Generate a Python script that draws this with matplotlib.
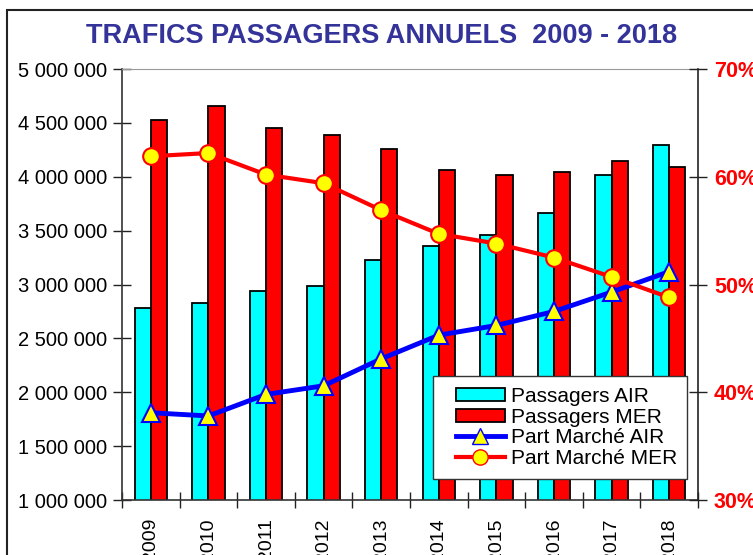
import matplotlib
matplotlib.use("Agg")
import matplotlib.pyplot as plt
import numpy as np
from matplotlib.patches import Rectangle, Patch
from matplotlib.lines import Line2D
from matplotlib.ticker import FuncFormatter

years = ["2009", "2010", "2011", "2012", "2013", "2014", "2015", "2016", "2017", "2018"]
passagers_air = [2780000, 2830000, 2940000, 2990000, 3230000, 3360000, 3455000, 3660000, 4015000, 4293000]
passagers_mer = [4528000, 4660000, 4450000, 4390000, 4260000, 4065000, 4016000, 4046000, 4145000, 4095000]
part_air = [38.1, 37.8, 39.8, 40.6, 43.1, 45.3, 46.2, 47.5, 49.3, 51.2]
part_mer = [61.9, 62.2, 60.2, 59.4, 56.9, 54.7, 53.8, 52.5, 50.7, 48.8]

plt.rcParams['font.family'] = ['Liberation Sans', 'DejaVu Sans']

fig = plt.figure(figsize=(7.53, 5.55), dpi=100)
W, H = 753, 555

# outer frame
fig.patches.append(Rectangle((7 / W, -0.1), 1.2, 1 - 10 / H + 0.1, transform=fig.transFigure,
                             fill=False, edgecolor='#222222', linewidth=1.5))

fig.text(382 / W, 1 - 36 / H, "TRAFICS PASSAGERS ANNUELS  2009 - 2018", ha='center', va='center',
         fontsize=19.5, fontweight='bold', color='#333399')

ax = fig.add_axes([122 / W, 1 - 500 / H, (698 - 122) / W, (500 - 69) / H])
x = np.arange(len(years))
bw = 0.28
ax.bar(x - bw / 2, passagers_air, bw, color='#00FFFF', edgecolor='black', linewidth=1.3, zorder=2)
ax.bar(x + bw / 2, passagers_mer, bw, color='#FF0000', edgecolor='black', linewidth=1.3, zorder=2)
ax.set_xlim(-0.5, len(years) - 0.5)
ax.set_ylim(1000000, 5000000)
ax.set_yticks(np.arange(1000000, 5000001, 500000))
ax.yaxis.set_major_formatter(FuncFormatter(lambda v, p: f"{int(v):,}".replace(",", " ")))
ax.tick_params(axis='y', direction='inout', length=13, width=1, labelsize=14.5, pad=4, colors='#222222')
ax.tick_params(axis='y', labelcolor='black')
ax.set_xticks(np.arange(-0.5, len(years), 1.0))
ax.set_xticklabels([])
ax.set_xticks(x, minor=True)
ax.set_xticklabels(years, minor=True, rotation=90, fontsize=14)
ax.tick_params(axis='x', which='major', direction='inout', length=12, width=1, colors='#222222')
ax.tick_params(axis='x', which='minor', length=0, pad=13)
for s in ['left', 'bottom']:
    ax.spines[s].set_color('#333333')
    ax.spines[s].set_linewidth(1.2)
ax.spines['top'].set_color('#999999')
ax.spines['right'].set_visible(False)

ax2 = ax.twinx()
ax2.plot(x, part_air, color='#0000FF', linewidth=3.5, marker='^', markersize=13,
         markerfacecolor='#FFFF00', markeredgecolor='#0000FF', markeredgewidth=1.5, zorder=3)
ax2.plot(x, part_mer, color='#FF0000', linewidth=3, marker='o', markersize=12,
         markerfacecolor='#FFFF00', markeredgecolor='#FF0000', markeredgewidth=1.5, zorder=3)
ax2.set_ylim(30, 70)
ax2.set_yticks(np.arange(30, 71, 10))
ax2.yaxis.set_major_formatter(FuncFormatter(lambda v, p: f"{int(v)}%"))
ax2.tick_params(axis='y', direction='inout', length=13, width=1, colors='#222222', pad=5)
for lab in ax2.get_yticklabels():
    lab.set_color('#FF0000')
    lab.set_fontweight('bold')
    lab.set_fontsize(15.5)
ax2.spines['right'].set_color('#222222')
ax2.spines['right'].set_linewidth(1.2)
for s in ['left', 'top', 'bottom']:
    ax2.spines[s].set_visible(False)

# legend frame drawn manually (pixel box 433..687 x 376..479)
ax_w, ax_h = 576, 431
fx0, fx1, fy0, fy1 = 433, 687, 376, 479
frame = Rectangle(((fx0 - 122) / ax_w, (500 - fy1) / ax_h), (fx1 - fx0) / ax_w, (fy1 - fy0) / ax_h,
                  transform=ax2.transAxes, facecolor='white', edgecolor='#333333', linewidth=1.0,
                  zorder=9, clip_on=False)
ax2.add_patch(frame)

handles = [
    Patch(facecolor='#00FFFF', edgecolor='black', linewidth=1.3),
    Patch(facecolor='#FF0000', edgecolor='black', linewidth=1.3),
    Line2D([], [], color='#0000FF', linewidth=3.5, marker='^', markersize=12,
           markerfacecolor='#FFFF00', markeredgecolor='#0000FF'),
    Line2D([], [], color='#FF0000', linewidth=3, marker='o', markersize=11,
           markerfacecolor='#FFFF00', markeredgecolor='#FF0000'),
]
labels = ["Passagers AIR", "Passagers MER", "Part Marché AIR", "Part Marché MER"]
leg = ax2.legend(handles, labels, loc='center left',
                 bbox_to_anchor=((456 - 122) / ax_w, (500 - (fy0 + fy1) / 2) / ax_h),
                 fontsize=15, frameon=False, borderpad=0, labelspacing=0.08, handlelength=2.35,
                 handleheight=0.6, handletextpad=0.3, borderaxespad=0)
leg.set_zorder(10)

fig.savefig("out.png", dpi=100)
